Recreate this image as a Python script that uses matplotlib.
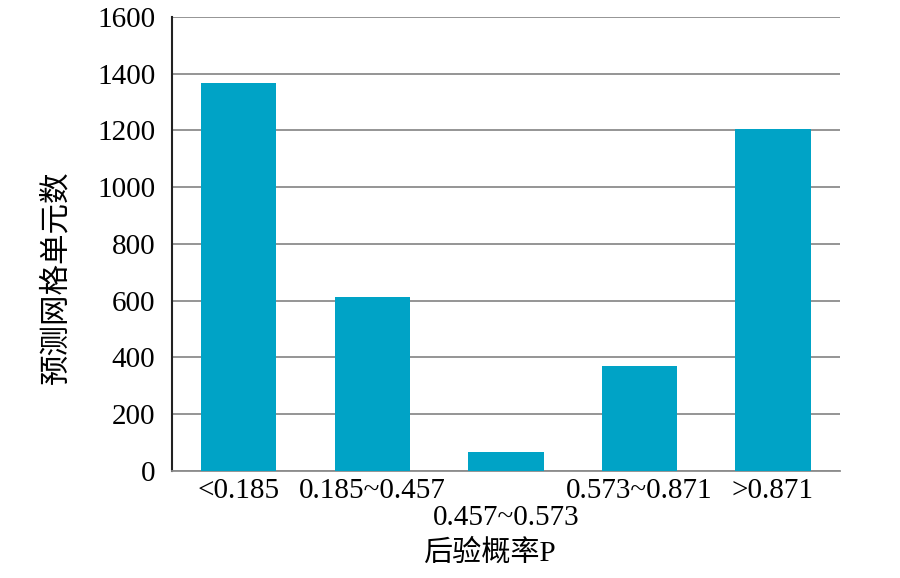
import numpy as np
import matplotlib.pyplot as plt

plt.rcParams['font.family'] = ['Liberation Serif', 'Noto Sans CJK SC']

categories = ['<0.185', '0.185~0.457', '0.457~0.573', '0.573~0.871', '>0.871']
counts = [1367, 612, 67, 370, 1205]
yticks = [0, 200, 400, 600, 800, 1000, 1200, 1400, 1600]

fig = plt.figure(figsize=(9, 5.78), dpi=100)
ax = fig.add_axes([0.191, 0.185, 0.742, 0.786])

x = np.arange(len(categories))
ax.bar(x, counts, width=0.565, color='#00a3c6', zorder=3)

ax.set_xlim(-0.5, len(categories) - 0.5)
ax.set_ylim(0, 1600)
ax.set_yticks(yticks)
ax.yaxis.grid(True, color='#8c8c8c', linewidth=1.3, zorder=0)

ax.set_xticks(x)
ax.set_xticklabels(categories)
# third label sits one line lower in the original
ax.get_xticklabels()[2].set_y(-0.06)
ax.tick_params(axis='both', length=0, labelsize=21)
ax.tick_params(axis='x', pad=5)
ax.tick_params(axis='y', pad=12)

for s in ['top', 'right']:
    ax.spines[s].set_visible(False)
ax.spines['left'].set_color('#222222')
ax.spines['left'].set_linewidth(1.5)
ax.spines['bottom'].set_color('#8c8c8c')
ax.spines['bottom'].set_linewidth(1.3)

ax.set_xlabel('后验概率P', fontsize=21)
ax.xaxis.set_label_coords(0.476, -0.18)
ax.xaxis.label.set_va('center')
ax.set_ylabel('预测网格单元数', fontsize=22)
ax.yaxis.set_label_coords(-0.172, 0.427)
ax.yaxis.label.set_va('center')

fig.savefig('out.png', dpi=100)
